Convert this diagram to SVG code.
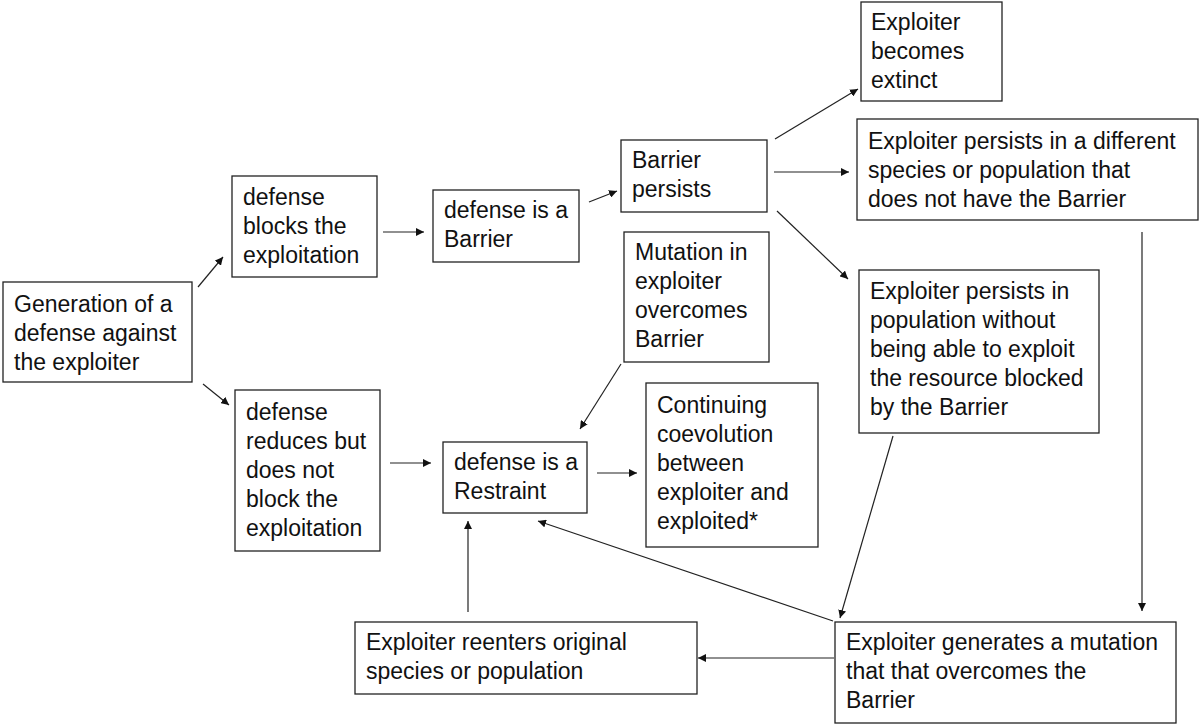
<svg xmlns="http://www.w3.org/2000/svg" width="1200" height="725" viewBox="0 0 1200 725">
<style>
.box{fill:#fff;stroke:#222;stroke-width:1.3}
.t{font-family:"Liberation Sans",Arial,sans-serif;font-size:23px;fill:#111}
.c{stroke:#222;stroke-width:1.2;fill:none;marker-end:url(#ah)}
</style>
<defs>
<marker id="ah" viewBox="0 0 10 10" refX="10" refY="5" markerWidth="8" markerHeight="8" markerUnits="userSpaceOnUse" orient="auto">
<path d="M0,0 L10,5 L0,10 z" fill="#111"/>
</marker>
</defs>
<rect width="1200" height="725" fill="#fff"/>
<g id="connectors">
<line class="c" x1="198" y1="287" x2="223" y2="257"/>
<line class="c" x1="203" y1="384" x2="229" y2="405"/>
<line class="c" x1="383" y1="232" x2="424" y2="232"/>
<line class="c" x1="589" y1="202" x2="617" y2="191"/>
<line class="c" x1="775" y1="139" x2="858" y2="89"/>
<line class="c" x1="774" y1="172" x2="849" y2="172"/>
<line class="c" x1="777" y1="211" x2="848" y2="279"/>
<line class="c" x1="621" y1="364" x2="580" y2="429"/>
<line class="c" x1="390" y1="463" x2="431" y2="463"/>
<line class="c" x1="597" y1="473" x2="637" y2="473"/>
<line class="c" x1="468" y1="612" x2="468" y2="521"/>
<line class="c" x1="833" y1="621" x2="538" y2="521"/>
<line class="c" x1="893" y1="436" x2="840" y2="618"/>
<line class="c" x1="1142" y1="232" x2="1142" y2="611"/>
<line class="c" x1="834" y1="658" x2="698" y2="658"/>
</g>
<g id="n-generation">
<rect class="box" x="3" y="282" width="189" height="100"/>
<text class="t" x="14" y="312">Generation of a</text>
<text class="t" x="14" y="341">defense against</text>
<text class="t" x="14" y="370">the exploiter</text>
</g>
<g id="n-blocks">
<rect class="box" x="232" y="176" width="145" height="101"/>
<text class="t" x="243" y="205">defense</text>
<text class="t" x="243" y="234">blocks the</text>
<text class="t" x="243" y="263">exploitation</text>
</g>
<g id="n-barrier">
<rect class="box" x="433" y="190" width="146" height="72"/>
<text class="t" x="444" y="218">defense is a</text>
<text class="t" x="444" y="247">Barrier</text>
</g>
<g id="n-persists">
<rect class="box" x="621" y="140" width="146" height="72"/>
<text class="t" x="632" y="168">Barrier</text>
<text class="t" x="632" y="197">persists</text>
</g>
<g id="n-extinct">
<rect class="box" x="861" y="2" width="141" height="99"/>
<text class="t" x="871" y="30">Exploiter</text>
<text class="t" x="871" y="59">becomes</text>
<text class="t" x="871" y="88">extinct</text>
</g>
<g id="n-different">
<rect class="box" x="857" y="119" width="341" height="101"/>
<text class="t" x="868" y="149">Exploiter persists in a different</text>
<text class="t" x="868" y="178">species or population that</text>
<text class="t" x="868" y="207">does not have the Barrier</text>
</g>
<g id="n-population">
<rect class="box" x="859" y="270" width="240" height="163"/>
<text class="t" x="870" y="299">Exploiter persists in</text>
<text class="t" x="870" y="328">population without</text>
<text class="t" x="870" y="357">being able to exploit</text>
<text class="t" x="870" y="386">the resource blocked</text>
<text class="t" x="870" y="415">by the Barrier</text>
</g>
<g id="n-mutation">
<rect class="box" x="624" y="232" width="145" height="130"/>
<text class="t" x="635" y="260">Mutation in</text>
<text class="t" x="635" y="289">exploiter</text>
<text class="t" x="635" y="318">overcomes</text>
<text class="t" x="635" y="347">Barrier</text>
</g>
<g id="n-reduces">
<rect class="box" x="235" y="390" width="145" height="161"/>
<text class="t" x="246" y="420">defense</text>
<text class="t" x="246" y="449">reduces but</text>
<text class="t" x="246" y="478">does not</text>
<text class="t" x="246" y="507">block the</text>
<text class="t" x="246" y="536">exploitation</text>
</g>
<g id="n-restraint">
<rect class="box" x="443" y="442" width="144" height="71"/>
<text class="t" x="454" y="470">defense is a</text>
<text class="t" x="454" y="499">Restraint</text>
</g>
<g id="n-continuing">
<rect class="box" x="646" y="383" width="172" height="164"/>
<text class="t" x="657" y="413">Continuing</text>
<text class="t" x="657" y="442">coevolution</text>
<text class="t" x="657" y="471">between</text>
<text class="t" x="657" y="500">exploiter and</text>
<text class="t" x="657" y="529">exploited*</text>
</g>
<g id="n-reenters">
<rect class="box" x="355" y="622" width="342" height="72"/>
<text class="t" x="366" y="650">Exploiter reenters original</text>
<text class="t" x="366" y="679">species or population</text>
</g>
<g id="n-generates">
<rect class="box" x="835" y="622" width="341" height="101"/>
<text class="t" x="846" y="650">Exploiter generates a mutation</text>
<text class="t" x="846" y="679">that that overcomes the</text>
<text class="t" x="846" y="708">Barrier</text>
</g>
</svg>
